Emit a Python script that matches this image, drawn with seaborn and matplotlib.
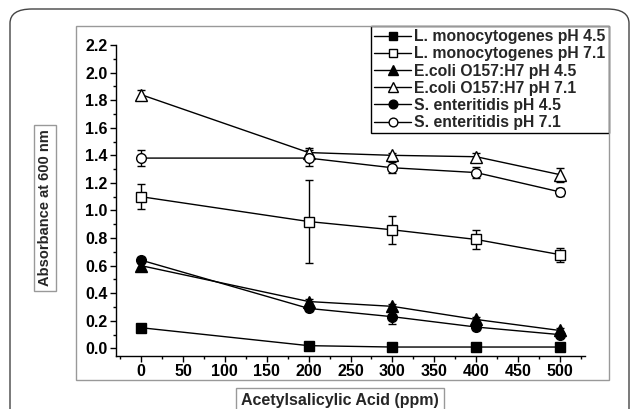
import numpy as np
import matplotlib
matplotlib.use("Agg")
import matplotlib.pyplot as plt
import seaborn as sns
from matplotlib.patches import FancyBboxPatch, Rectangle
from matplotlib.ticker import MultipleLocator, FormatStrFormatter

# data
conc = [0, 200, 300, 400, 500]

lm_45 = [0.15, 0.02, 0.01, 0.01, 0.01]
lm_45_err = [0.02, 0.01, 0.01, 0.01, 0.01]
lm_71 = [1.10, 0.92, 0.86, 0.79, 0.68]
lm_71_err = [0.09, 0.30, 0.10, 0.07, 0.05]
ec_45 = [0.60, 0.34, 0.305, 0.21, 0.13]
ec_45_err = [0.02, 0.02, 0.02, 0.02, 0.02]
ec_71 = [1.84, 1.42, 1.40, 1.39, 1.26]
ec_71_err = [0.035, 0.03, 0.02, 0.03, 0.05]
se_45 = [0.64, 0.29, 0.23, 0.155, 0.10]
se_45_err = [0.02, 0.02, 0.05, 0.02, 0.02]
se_71 = [1.38, 1.38, 1.31, 1.275, 1.135]
se_71_err = [0.06, 0.06, 0.04, 0.04, 0.03]

labels = [
    "L. monocytogenes pH 4.5",
    "L. monocytogenes pH 7.1",
    "E.coli O157:H7 pH 4.5",
    "E.coli O157:H7 pH 7.1",
    "S. enteritidis pH 4.5",
    "S. enteritidis pH 7.1",
]
series = [(lm_45, lm_45_err), (lm_71, lm_71_err), (ec_45, ec_45_err),
          (ec_71, ec_71_err), (se_45, se_45_err), (se_71, se_71_err)]
markers = ["s", "s", "^", "^", "o", "o"]
faces = ["black", "white", "black", "white", "black", "white"]

sns.set_theme(style="ticks")
plt.rcParams["font.family"] = ["Liberation Sans", "DejaVu Sans"]
plt.rcParams["font.weight"] = "bold"

fig = plt.figure(figsize=(6.3, 4.09), dpi=100)
fig.patch.set_facecolor("white")
W, H = 630, 409

# outer rounded border and inner gray frame
outer = FancyBboxPatch((10 / W, 1 - 440 / H), 619 / W, 431 / H,
                       boxstyle="round,pad=0,rounding_size=0.035",
                       transform=fig.transFigure, fill=False,
                       edgecolor="#444444", linewidth=1.0)
fig.patches.append(outer)
frame = Rectangle((76 / W, 1 - 380 / H), 533 / W, 354 / H,
                  transform=fig.transFigure, fill=False,
                  edgecolor="#999999", linewidth=1.0)
fig.patches.append(frame)

ax = fig.add_axes([116 / W, 1 - 356 / H, 469 / W, 311 / H])
ax.set_facecolor("none")

for (vals, err), lab, mk, fc in zip(series, labels, markers, faces):
    ax.errorbar(conc, vals, yerr=err, fmt="none", ecolor="black",
                elinewidth=1.0, capsize=3, capthick=1.0, zorder=2)
    sns.lineplot(x=conc, y=vals, ax=ax, color="black", linewidth=1.0,
                 marker=mk, markersize=7 if mk != "^" else 8,
                 markerfacecolor=fc, markeredgecolor="black",
                 markeredgewidth=1.0, label=lab, zorder=3)

ax.set_xlim(-30, 530)
ax.set_ylim(-0.055, 2.2)
ax.xaxis.set_major_locator(MultipleLocator(50))
ax.xaxis.set_minor_locator(MultipleLocator(25))
ax.yaxis.set_major_locator(MultipleLocator(0.2))
ax.yaxis.set_minor_locator(MultipleLocator(0.1))
ax.yaxis.set_major_formatter(FormatStrFormatter("%.1f"))
ax.set_xticks([0, 50, 100, 150, 200, 250, 300, 350, 400, 450, 500])
ax.spines[["top", "right"]].set_visible(False)
ax.spines[["left", "bottom"]].set_color("black")
ax.spines[["left", "bottom"]].set_linewidth(1.0)
ax.tick_params(which="major", length=4, width=1, colors="black",
               labelsize=11.5, pad=2)
ax.tick_params(which="minor", length=2, width=1, colors="black")
for t in ax.get_xticklabels() + ax.get_yticklabels():
    t.set_fontweight("bold")
ax.set_xlabel("")
ax.set_ylabel("")

leg = ax.legend(loc="upper right", bbox_to_anchor=(609 / W, 1 - 26 / H),
                bbox_transform=fig.transFigure, frameon=True, fancybox=False,
                prop={"weight": "bold", "size": 11.3}, handlelength=2.4,
                handletextpad=0.2, labelspacing=0.14, borderpad=0.2,
                borderaxespad=0, markerscale=0.9)
leg.get_frame().set_edgecolor("black")
leg.get_frame().set_linewidth(1.0)
leg.get_frame().set_alpha(1)

box = dict(boxstyle="square,pad=0.3", facecolor="white",
           edgecolor="#999999", linewidth=1.0)
fig.text(45 / W, 1 - 208 / H, "Absorbance at 600 nm", rotation=90,
         ha="center", va="center", fontsize=10.5, fontweight="bold", bbox=box)
fig.text(340 / W, 1 - 400 / H, "Acetylsalicylic Acid (ppm)",
         ha="center", va="center", fontsize=11.5, fontweight="bold", bbox=box)

fig.savefig("out.png", dpi=100)
